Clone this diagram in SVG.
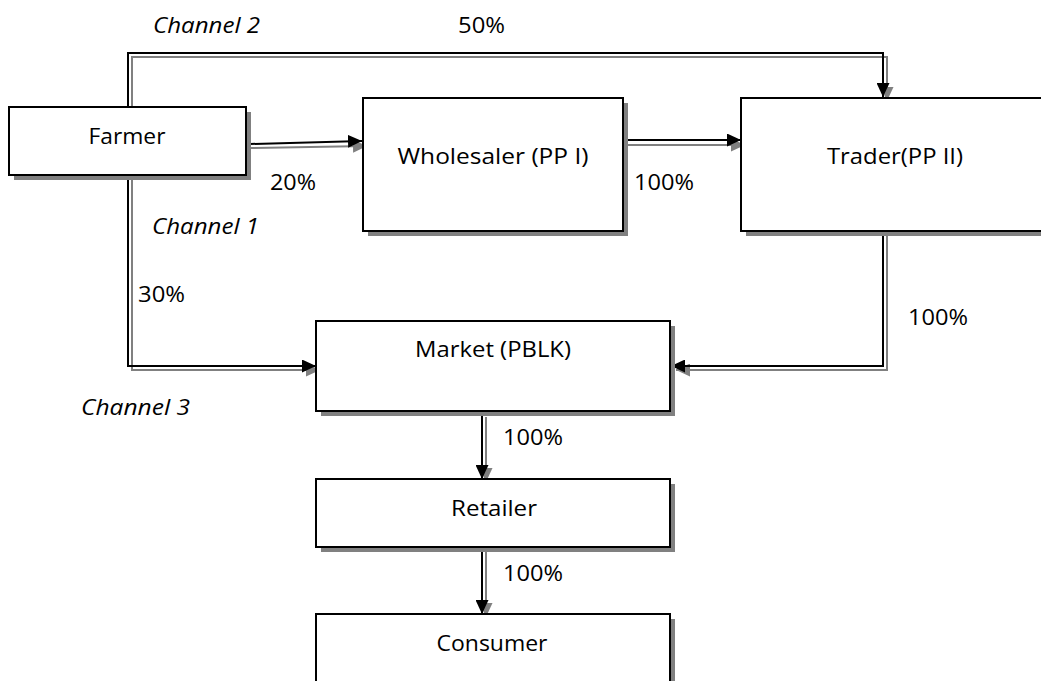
<svg xmlns="http://www.w3.org/2000/svg" width="1041" height="681" viewBox="0 0 1041 681">
  <defs>
    <marker id="ah" viewBox="0 0 14 13" markerWidth="14" markerHeight="13" refX="14" refY="6.5" orient="auto" markerUnits="userSpaceOnUse">
      <path d="M0,0 L14,6.5 L0,13 Z" fill="#000"/>
    </marker>
    <marker id="ahs" viewBox="0 0 14 13" markerWidth="14" markerHeight="13" refX="14" refY="6.5" orient="auto" markerUnits="userSpaceOnUse">
      <path d="M0,0 L14,6.5 L0,13 Z" fill="#808080"/>
    </marker>
  </defs>
  <style>
    .box { fill: #fff; stroke: #000; stroke-width: 2; }
    .shadow { fill: #808080; }
    .lbl { font-family: "Open Sans", "Liberation Sans", sans-serif; font-size: 21.5px; fill: #000; }
    .it { font-style: italic; }
    .ln { fill: none; stroke: #000; stroke-width: 2; }
    .ls { fill: none; stroke: #808080; stroke-width: 2; }
  </style>
  <rect width="1041" height="681" fill="#fff"/>

  <!-- connectors: gray offset shadow line under a black line -->
  <g id="connectors">
    <!-- channel 2: farmer over the top to trader -->
    <polyline class="ls" points="132,107 132,57 887,57 887,101" marker-end="url(#ahs)"/>
    <polyline class="ln" points="128,107 128,53 883,53 883,97" marker-end="url(#ah)"/>
    <!-- farmer to wholesaler -->
    <polyline class="ls" points="251,148 367,146" marker-end="url(#ahs)"/>
    <polyline class="ln" points="250,144 362,141" marker-end="url(#ah)"/>
    <!-- wholesaler to trader -->
    <polyline class="ls" points="628,145 745,145" marker-end="url(#ahs)"/>
    <polyline class="ln" points="623,140 741,140" marker-end="url(#ah)"/>
    <!-- channel 3: farmer down to market -->
    <polyline class="ls" points="132,180 132,370 320,370" marker-end="url(#ahs)"/>
    <polyline class="ln" points="128,175 128,366 316,366" marker-end="url(#ah)"/>
    <!-- trader down to market -->
    <polyline class="ls" points="887,236 887,370 676,370" marker-end="url(#ahs)"/>
    <polyline class="ln" points="883,231 883,366 671,366" marker-end="url(#ah)"/>
    <!-- market to retailer -->
    <polyline class="ls" points="486,417 486,482" marker-end="url(#ahs)"/>
    <polyline class="ln" points="482,412 482,479" marker-end="url(#ah)"/>
    <!-- retailer to consumer -->
    <polyline class="ls" points="486,552 486,617" marker-end="url(#ahs)"/>
    <polyline class="ln" points="482,547 482,614" marker-end="url(#ah)"/>
  </g>

  <g id="farmer">
    <rect class="shadow" x="14" y="112" width="237" height="68"/>
    <rect class="box" x="9" y="107" width="237" height="68"/>
    <text class="lbl" x="127" y="144" text-anchor="middle" textLength="77" lengthAdjust="spacingAndGlyphs">Farmer</text>
  </g>

  <g id="wholesaler">
    <rect class="shadow" x="368" y="103" width="260" height="133"/>
    <rect class="box" x="363" y="98" width="260" height="133"/>
    <text class="lbl" x="493" y="164" text-anchor="middle" textLength="191" lengthAdjust="spacingAndGlyphs">Wholesaler (PP I)</text>
  </g>

  <g id="trader">
    <rect class="shadow" x="746" y="103" width="310" height="133"/>
    <rect class="box" x="741" y="98" width="310" height="133"/>
    <text class="lbl" x="895" y="164" text-anchor="middle" textLength="136" lengthAdjust="spacingAndGlyphs">Trader(PP II)</text>
  </g>

  <g id="market">
    <rect class="shadow" x="321" y="326" width="354" height="90"/>
    <rect class="box" x="316" y="321" width="354" height="90"/>
    <text class="lbl" x="493" y="357" text-anchor="middle" textLength="156" lengthAdjust="spacingAndGlyphs">Market (PBLK)</text>
  </g>

  <g id="retailer">
    <rect class="shadow" x="321" y="484" width="354" height="68"/>
    <rect class="box" x="316" y="479" width="354" height="68"/>
    <text class="lbl" x="494" y="516" text-anchor="middle" textLength="86" lengthAdjust="spacingAndGlyphs">Retailer</text>
  </g>

  <g id="consumer">
    <rect class="shadow" x="321" y="619" width="354" height="90"/>
    <rect class="box" x="316" y="614" width="354" height="90"/>
    <text class="lbl" x="492" y="651" text-anchor="middle" textLength="111" lengthAdjust="spacingAndGlyphs">Consumer</text>
  </g>

  <g id="labels">
    <text class="lbl it" x="153" y="33" textLength="107" lengthAdjust="spacingAndGlyphs">Channel 2</text>
    <text class="lbl" x="458" y="33" textLength="47" lengthAdjust="spacingAndGlyphs">50%</text>
    <text class="lbl" x="270" y="190" textLength="46" lengthAdjust="spacingAndGlyphs">20%</text>
    <text class="lbl" x="634" y="190" textLength="60" lengthAdjust="spacingAndGlyphs">100%</text>
    <text class="lbl it" x="152" y="234" textLength="107" lengthAdjust="spacingAndGlyphs">Channel 1</text>
    <text class="lbl" x="138" y="302" textLength="47" lengthAdjust="spacingAndGlyphs">30%</text>
    <text class="lbl" x="908" y="325" textLength="60" lengthAdjust="spacingAndGlyphs">100%</text>
    <text class="lbl it" x="81" y="415" textLength="109" lengthAdjust="spacingAndGlyphs">Channel 3</text>
    <text class="lbl" x="503" y="445" textLength="60" lengthAdjust="spacingAndGlyphs">100%</text>
    <text class="lbl" x="503" y="581" textLength="60" lengthAdjust="spacingAndGlyphs">100%</text>
  </g>
</svg>
